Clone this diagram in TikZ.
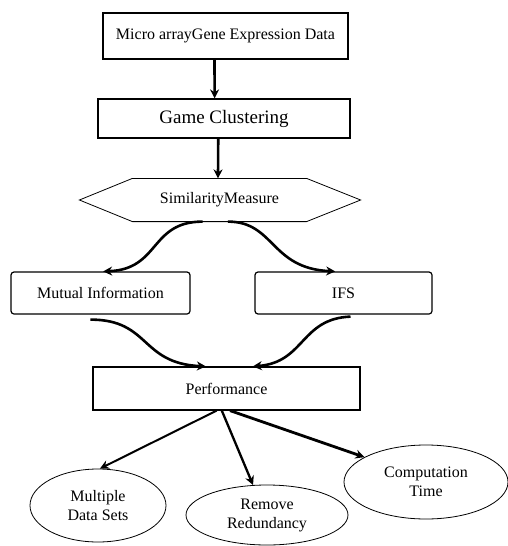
\documentclass[tikz,border=0pt]{standalone}
\usepackage{fontspec}
\setmainfont{Liberation Serif}
\usetikzlibrary{arrows.meta,shapes.geometric}

\begin{document}
\begin{tikzpicture}
[x=1pt,y=-1pt,
  boxDecorate/.style={shape=rectangle,draw,line width=1.2pt,inner sep=0pt,font=\fontsize{16}{19}\selectfont},%
  roundDecorate/.style={boxDecorate,rounded corners=3pt},%
  ovalDecorate/.style={shape=ellipse,draw,line width=0.8pt,inner sep=0pt,align=center,font=\fontsize{16}{19}\selectfont},%
  lineDecorate/.style={-{Stealth[length=9pt,width=9pt]},line width=2.6pt}]
\useasboundingbox (0,0) rectangle (508,546);
%% boxes
\node (data) at (225.5,36) [boxDecorate,minimum width=245pt,minimum height=46pt] {Micro arrayGene Expression Data};
\node (cluster) at (224,118.5) [boxDecorate,minimum width=252pt,minimum height=39pt,font=\fontsize{19}{22}\selectfont] {Game Clustering};
\node (sim) at (219.5,200) [boxDecorate,draw=none,minimum width=173pt,minimum height=42pt] {SimilarityMeasure};
\draw[line width=0.8pt] (sim.north west) -- (sim.north east) -- ([xshift=54pt]sim.east)
  -- (sim.south east) -- (sim.south west) -- ([xshift=-53pt]sim.west) -- cycle;
\node (mutual) at (100.5,293) [roundDecorate,minimum width=179pt,minimum height=42pt] {Mutual Information};
\node (ifs) at (343.5,293) [roundDecorate,minimum width=177pt,minimum height=42pt] {IFS};
\node (perf) at (226.5,388.5) [boxDecorate,minimum width=267pt,minimum height=43pt] {Performance};
%% goals
\foreach \nodename/\x/\y/\w/\h/\txt in {
  multiple/98/505.5/136/73/{Multiple\\Data Sets},
  remove/267/515/162/60/{Remove\\Redundancy},
  comptime/426/482/164/74/{Computation\\Time}}
{
  \node (\nodename) at (\x,\y) [ovalDecorate,minimum width=\w pt,minimum height=\h pt] {\txt};
}
%% straight arrows
\path
\foreach \startnode/\endnode/\lw in {data.245/cluster.115/2.6, cluster.254/sim.94/2.6,
  perf.246/multiple.87/2, perf.258/remove.115/2.3, perf.279/comptime.158/2.8}
{
  (\startnode) edge[lineDecorate,line width=\lw pt] (\endnode)
};
%% curved arrows
\draw[lineDecorate] (sim.232) .. controls +(-53,0) and +(57,-2) .. (mutual.83);
\draw[lineDecorate] (sim.291) .. controls +(47,0) and +(-65,-3) .. (ifs.111);
\draw[lineDecorate] ([yshift=-5pt]mutual.245) .. controls +(60,0) and +(-66,-3) .. (perf.133);
\draw[lineDecorate] ([yshift=-2pt]ifs.288) .. controls +(-50,2) and +(52,-4) .. (perf.40);
\end{tikzpicture}
\end{document}
